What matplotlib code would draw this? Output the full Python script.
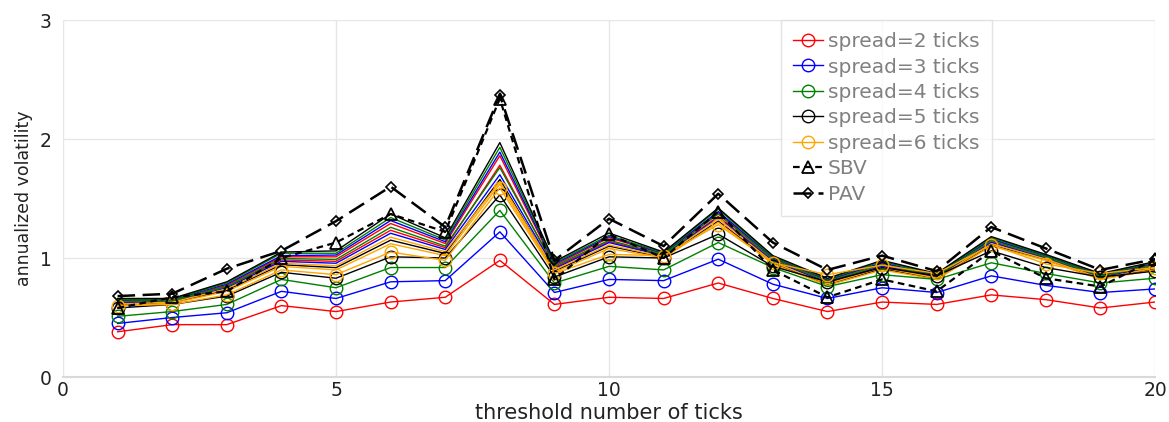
import numpy as np
import matplotlib.pyplot as plt

# threshold number of ticks
x = list(range(1, 21))

# annualized volatility for each spread (circle markers)
spread2 = [0.38, 0.44, 0.44, 0.60, 0.55, 0.63, 0.67, 0.98, 0.61, 0.67,
           0.66, 0.79, 0.66, 0.55, 0.63, 0.61, 0.69, 0.65, 0.58, 0.63]
spread3 = [0.45, 0.50, 0.54, 0.72, 0.66, 0.80, 0.81, 1.22, 0.71, 0.82,
           0.81, 0.99, 0.78, 0.66, 0.75, 0.71, 0.85, 0.77, 0.71, 0.74]
spread4 = [0.51, 0.55, 0.61, 0.82, 0.75, 0.92, 0.92, 1.40, 0.79, 0.93,
           0.90, 1.13, 0.92, 0.76, 0.86, 0.82, 0.96, 0.87, 0.79, 0.83]
spread5 = [0.58, 0.61, 0.68, 0.88, 0.83, 1.01, 1.00, 1.53, 0.84, 1.01,
           1.00, 1.20, 0.93, 0.80, 0.92, 0.85, 1.06, 0.92, 0.84, 0.89]
spread6 = [0.60, 0.61, 0.69, 0.90, 0.86, 1.05, 0.98, 1.59, 0.87, 1.03,
           1.02, 1.28, 0.96, 0.86, 0.94, 0.87, 1.11, 0.95, 0.87, 0.92]

# extra runs per spread, drawn without markers
spread2_a = [0.641, 0.647, 0.77, 1.01, 1.01, 1.29, 1.122, 1.86, 0.94, 1.17,
             1.034, 1.38, 0.998, 0.811, 0.955, 0.854, 1.155, 1.014, 0.854, 0.948]
spread2_b = [0.627, 0.638, 0.76, 0.984, 0.972, 1.233, 1.087, 1.78, 0.92, 1.14,
             1.023, 1.35, 0.982, 0.797, 0.935, 0.843, 1.135, 1.003, 0.843, 0.932]
spread3_a = [0.647, 0.651, 0.78, 1.02, 1.025, 1.315, 1.137, 1.89, 0.95, 1.18,
             1.039, 1.39, 1.005, 0.817, 0.96, 0.859, 1.16, 1.019, 0.859, 0.955]
spread3_b = [0.621, 0.634, 0.75, 0.972, 0.956, 1.208, 1.072, 1.70, 0.91, 1.13,
             1.018, 1.34, 0.975, 0.791, 0.93, 0.838, 1.13, 0.998, 0.838, 0.925]
spread4_a = [0.653, 0.655, 0.79, 1.04, 1.04, 1.34, 1.152, 1.93, 0.96, 1.19,
             1.044, 1.41, 1.01, 0.823, 0.97, 0.864, 1.17, 1.024, 0.864, 0.96]
spread4_b = [0.633, 0.642, 0.76, 0.996, 0.988, 1.258, 1.10, 1.76, 0.93, 1.15,
             1.028, 1.37, 0.989, 0.803, 0.945, 0.848, 1.145, 1.008, 0.848, 0.939]
spread5_a = [0.66, 0.66, 0.80, 1.05, 1.06, 1.37, 1.17, 1.97, 0.97, 1.21,
             1.05, 1.42, 1.02, 0.83, 0.98, 0.87, 1.18, 1.03, 0.87, 0.97]
spread5_b = [0.607, 0.625, 0.73, 0.944, 0.919, 1.15, 1.038, 1.66, 0.89, 1.10,
             1.006, 1.31, 0.958, 0.777, 0.91, 0.826, 1.11, 0.986, 0.826, 0.908]
spread6_a = [0.613, 0.629, 0.74, 0.956, 0.935, 1.175, 1.053, 1.64, 0.90, 1.11,
             1.011, 1.33, 0.965, 0.783, 0.92, 0.831, 1.12, 0.991, 0.831, 0.915]
spread6_b = [0.60, 0.62, 0.72, 0.93, 0.90, 1.12, 1.02, 1.62, 0.88, 1.08,
             1.00, 1.30, 0.95, 0.77, 0.90, 0.82, 1.10, 0.98, 0.82, 0.90]

sbv = [0.58, 0.67, 0.72, 1.00, 1.13, 1.37, 1.22, 2.34, 0.82, 1.20,
       1.00, 1.39, 0.90, 0.67, 0.82, 0.72, 1.06, 0.83, 0.76, 0.99]
pav = [0.68, 0.70, 0.91, 1.06, 1.31, 1.60, 1.26, 2.37, 0.98, 1.33,
       1.10, 1.54, 1.13, 0.90, 1.02, 0.89, 1.26, 1.08, 0.90, 0.99]

labels = ["spread=2 ticks", "spread=3 ticks", "spread=4 ticks",
          "spread=5 ticks", "spread=6 ticks"]
colors = ["red", "blue", "green", "black", "orange"]
marked = [spread2, spread3, spread4, spread5, spread6]
extra = [[spread2_a, spread2_b], [spread3_a, spread3_b], [spread4_a, spread4_b],
         [spread5_a, spread5_b], [spread6_a, spread6_b]]

fig = plt.figure(figsize=(11.69, 4.22), dpi=100)
ax = fig.add_axes([0.0539, 0.1066, 0.9342, 0.846])

for runs, c in zip(extra, colors):
    for r in runs:
        ax.plot(x, r, color=c, lw=1.0, zorder=2)

for vals, c, lab in zip(marked, colors, labels):
    ax.plot(x, vals, color=c, lw=1.0, marker='o', ms=9, mfc='none',
            mew=1.0, label=lab, zorder=3)

ax.plot(x, sbv, color='black', lw=1.6, ls=(0, (3, 2)), marker='^', ms=9,
        mfc='none', mew=1.3, label='SBV', zorder=4)
ax.plot(x, pav, color='black', lw=1.8, ls=(0, (7, 3)), marker='D', ms=5.5,
        mfc='none', mew=1.2, label='PAV', zorder=4)

ax.set_xlim(0, 20)
ax.set_ylim(0, 3)
ax.set_xticks([0, 5, 10, 15, 20])
ax.set_yticks([0, 1, 2, 3])
ax.grid(True, color='#e6e6e6', lw=1.0)
ax.set_axisbelow(True)
for s in ['top', 'right', 'left']:
    ax.spines[s].set_visible(False)
ax.spines['bottom'].set_color('#d9d9d9')
ax.spines['bottom'].set_linewidth(1.5)
ax.tick_params(length=0, labelsize=13.5, colors='#222222')
ax.tick_params(axis='x', pad=3)
ax.tick_params(axis='y', pad=8)
ax.set_xlabel("threshold number of ticks", fontsize=15, labelpad=2,
              color='#222222')
ax.set_ylabel("annualized volatility", fontsize=12.5, labelpad=5,
              color='#222222')

leg = ax.legend(loc='upper left', bbox_to_anchor=(0.657, 1.0), fontsize=14.5,
                frameon=True, fancybox=False, edgecolor='#dddddd',
                handlelength=1.5, handletextpad=0.25, labelspacing=0.32,
                borderpad=0.6, borderaxespad=0, labelcolor='#808080')
leg.get_frame().set_linewidth(1.0)

fig.savefig("out.png", dpi=100)
